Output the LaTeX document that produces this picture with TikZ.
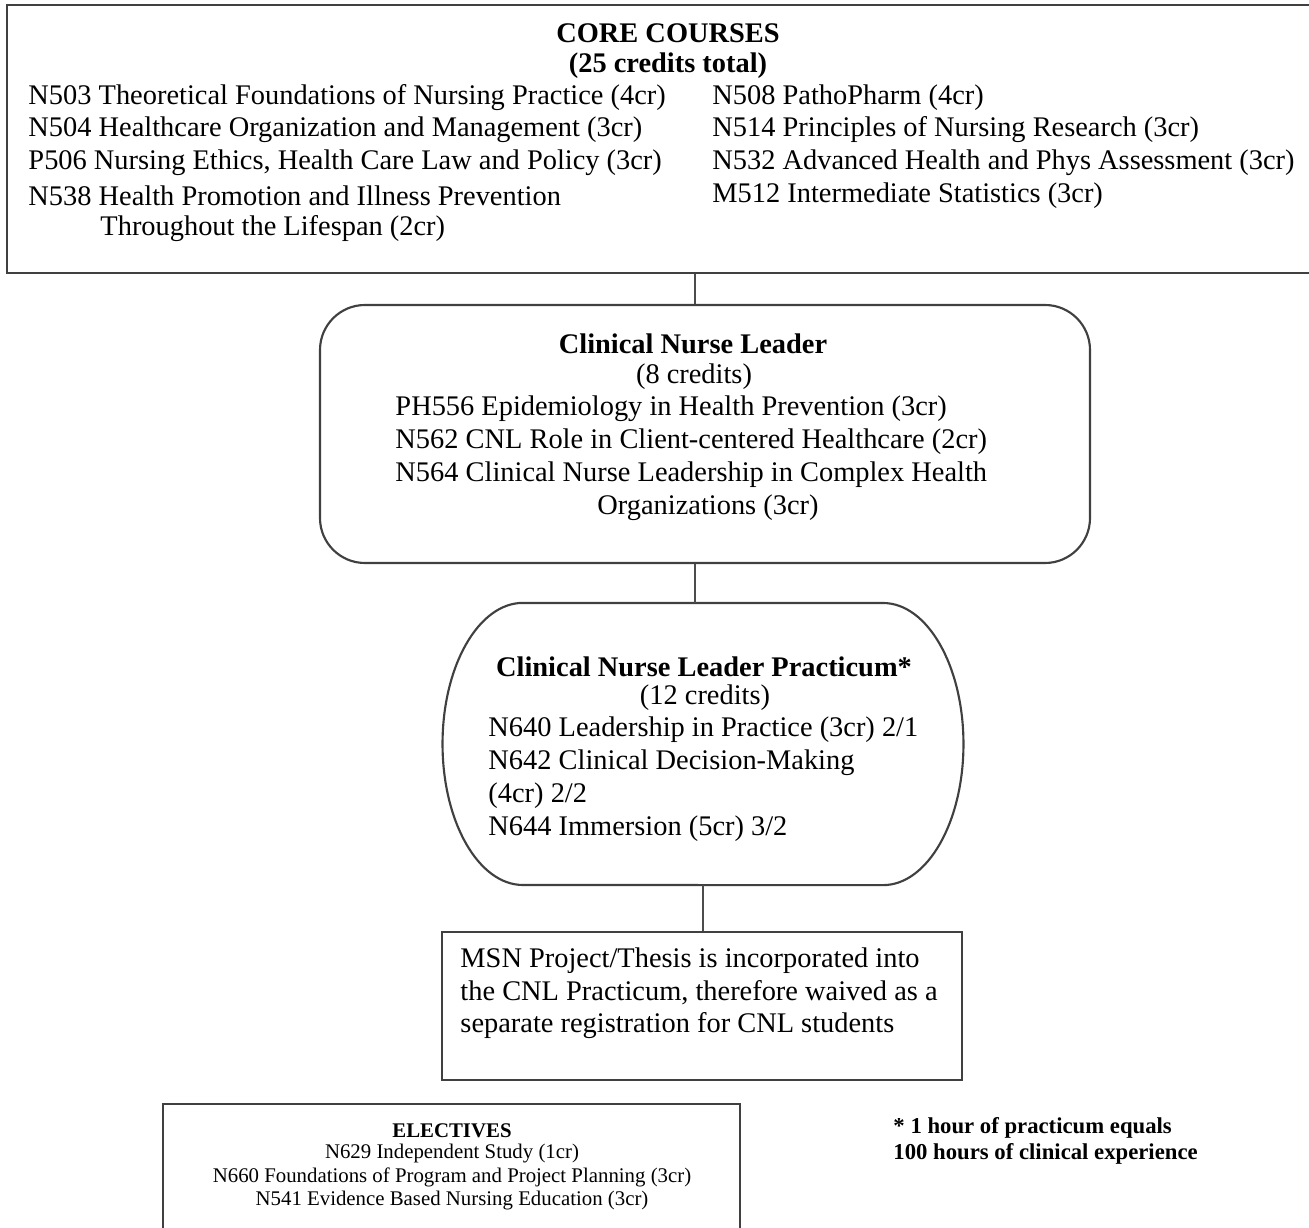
\documentclass[tikz,border=0pt]{standalone}
\usepackage{fontspec}
\setmainfont{Liberation Serif}
\tikzset{
  boxline/.style={draw=black!75, line width=0.9pt},
  sqbox/.style={boxline, rectangle, inner sep=0pt},
  roundbox/.style={boxline, rectangle, rounded corners=19pt, inner sep=0pt},
  link/.style={draw=black!70, line width=0.7pt},
  body/.style={inner sep=0pt, font=\fontsize{12}{14}\selectfont},
  bodyb/.style={inner sep=0pt, font=\fontsize{12}{14}\selectfont\bfseries},
  elecline/.style={inner sep=0pt, font=\fontsize{8.8}{10}\selectfont},
  starline/.style={inner sep=0pt, anchor=west, font=\fontsize{9.6}{11}\selectfont\bfseries}
}
\begin{document}
\begin{tikzpicture}[x=0.4225pt, y=-0.4225pt]
  \useasboundingbox (0,0) rectangle (1309,1228);
  \coordinate (spine) at (695,0);
  % core courses
  \node[sqbox, minimum width={1305*0.4225pt}, minimum height={268*0.4225pt}] (core) at (659.5,139) {};
  \node[bodyb] (coretitle) at (668,33) {CORE COURSES};
  \node[bodyb] (corecr) at (668,66) {(25 credits total)};
  \foreach \y/\txt in {98/N503 Theoretical Foundations of Nursing Practice (4cr),
    130/N504 Healthcare Organization and Management (3cr),
    163/{P506 Nursing Ethics, Health Care Law and Policy (3cr)},
    196/N538 Health Promotion and Illness Prevention}{
    \node[body, anchor=west] at (28,\y) {\txt};
  }
  \node[body, anchor=west] at (100,229) {Throughout the Lifespan (2cr)};
  \foreach \y/\txt in {98/N508 PathoPharm (4cr),
    130/N514 Principles of Nursing Research (3cr),
    163/N532 Advanced Health and Phys Assessment (3cr),
    196/M512 Intermediate Statistics (3cr)}{
    \node[body, anchor=west] at (712,\y) {\txt};
  }
  % clinical nurse leader
  \node[roundbox, minimum width={770*0.4225pt}, minimum height={258*0.4225pt}] (cnl) at (705,434) {};
  \node[bodyb] at (693,344) {Clinical Nurse Leader};
  \node[body] at (694,377) {(8 credits)};
  \foreach \y/\txt in {409/PH556 Epidemiology in Health Prevention (3cr),
    442/N562 CNL Role in Client-centered Healthcare (2cr),
    475/N564 Clinical Nurse Leadership in Complex Health}{
    \node[body, anchor=west] at (395,\y) {\txt};
  }
  \node[body] at (708,508) {Organizations (3cr)};
  % practicum
  \node[inner sep=0pt, minimum width={520*0.4225pt}, minimum height={282*0.4225pt}] (prac) at (703,744) {};
  \draw[boxline] (523,603) -- (883,603)
    arc[start angle=90, end angle=-90, x radius=34pt, y radius=59.6pt]
    -- (523,885)
    arc[start angle=270, end angle=90, x radius=34pt, y radius=59.6pt] -- cycle;
  \node[bodyb] at (704,667) {Clinical Nurse Leader Practicum*};
  \node[body] at (705,698) {(12 credits)};
  \foreach \y/\txt in {730/{N640 Leadership in Practice (3cr) 2/1},
    763/N642 Clinical Decision-Making,
    796/{(4cr) 2/2},
    829/{N644 Immersion (5cr) 3/2}}{
    \node[body, anchor=west] at (488,\y) {\txt};
  }
  % project / thesis
  \node[sqbox, minimum width={520*0.4225pt}, minimum height={148*0.4225pt}] (msn) at (702,1006) {};
  \foreach \y/\txt in {961/{MSN Project/Thesis is incorporated into},
    993/{the CNL Practicum, therefore waived as a},
    1026/separate registration for CNL students}{
    \node[body, anchor=west] at (460,\y) {\txt};
  }
  % electives
  \node[sqbox, minimum width={577*0.4225pt}, minimum height={150*0.4225pt}] (elect) at (451.5,1179) {};
  \node[elecline, font=\fontsize{8.8}{10}\selectfont\bfseries] at (452,1131) {ELECTIVES};
  \foreach \y/\txt in {1154/N629 Independent Study (1cr),
    1177/N660 Foundations of Program and Project Planning (3cr),
    1201/N541 Evidence Based Nursing Education (3cr)}{
    \node[elecline] at (452,\y) {\txt};
  }
  % footnote
  \node[starline] (star) at (893,1128) {* 1 hour of practicum equals};
  \node[starline] at (893,1154) {100 hours of clinical experience};
  % connectors
  \draw[link] (core.south -| spine) -- (cnl.north -| spine);
  \draw[link] (cnl.south -| spine) -- (prac.north -| spine);
  \draw[link] (prac.south) -- (msn.north -| prac.south);
\end{tikzpicture}
\end{document}
